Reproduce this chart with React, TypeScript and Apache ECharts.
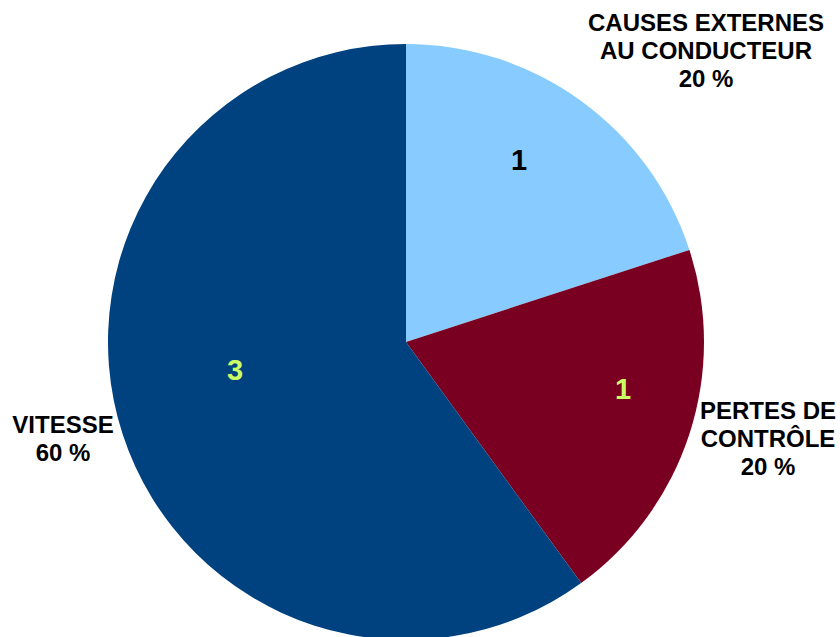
import React, { useEffect, useRef } from "react";
import * as echarts from "echarts";

const categories = ["CAUSES EXTERNES\nAU CONDUCTEUR", "PERTES DE\nCONTRÔLE", "VITESSE"];
const values = [1, 1, 3];

export default function App() {
  const ref = useRef<HTMLDivElement>(null);
  useEffect(() => {
    if (!ref.current) return;
    const chart = echarts.init(ref.current, null, { renderer: "svg" });
    const colors = ["#88CCFF", "#7A0022", "#00427F"];
    const valueColors = ["#000000", "#CCFF66", "#CCFF66"];
    const innerPos = [[519, 160], [623, 389], [235, 370]];
    const outerPos = [[706, 50], [768, 438], [63, 438]];
    const total = values.reduce((a, b) => a + b, 0);
    const center = [406, 342];
    const radius = 298;
    const font = "'Liberation Sans', Arial, sans-serif";
    chart.setOption({
      animation: false,
      backgroundColor: "#ffffff",
      series: [
        {
          type: "pie",
          center,
          radius,
          startAngle: 90,
          clockwise: true,
          avoidLabelOverlap: false,
          silent: true,
          itemStyle: { borderWidth: 0 },
          label: {
            show: true,
            position: "inside",
            formatter: (p: any) => String(p.value),
            fontFamily: font,
            fontWeight: "bold",
            fontSize: 29,
          },
          labelLine: { show: false },
          labelLayout: (p: any) => ({
            x: innerPos[p.dataIndex][0],
            y: innerPos[p.dataIndex][1],
            align: "center",
            verticalAlign: "middle",
          }),
          data: categories.map((c, i) => ({
            name: c,
            value: values[i],
            itemStyle: { color: colors[i] },
            label: { color: valueColors[i] },
          })),
        },
        {
          type: "pie",
          center,
          radius,
          startAngle: 90,
          clockwise: true,
          avoidLabelOverlap: false,
          silent: true,
          itemStyle: { color: "rgba(0,0,0,0)", borderWidth: 0 },
          label: {
            show: true,
            position: "outside",
            formatter: (p: any) => `${p.name}\n${Math.round((p.value / total) * 100)} %`,
            fontFamily: font,
            fontWeight: "bold",
            fontSize: 24,
            lineHeight: 28,
            color: "#000000",
            align: "center",
          },
          labelLine: { show: false },
          labelLayout: (p: any) => ({
            x: outerPos[p.dataIndex][0],
            y: outerPos[p.dataIndex][1],
            align: "center",
            verticalAlign: "middle",
          }),
          data: categories.map((c, i) => ({ name: c, value: values[i] })),
        },
      ],
    });
    return () => chart.dispose();
  }, []);
  return (
    <div
      ref={ref}
      style={{ position: "absolute", left: 0, top: 0, width: 840, height: 637 }}
    />
  );
}
